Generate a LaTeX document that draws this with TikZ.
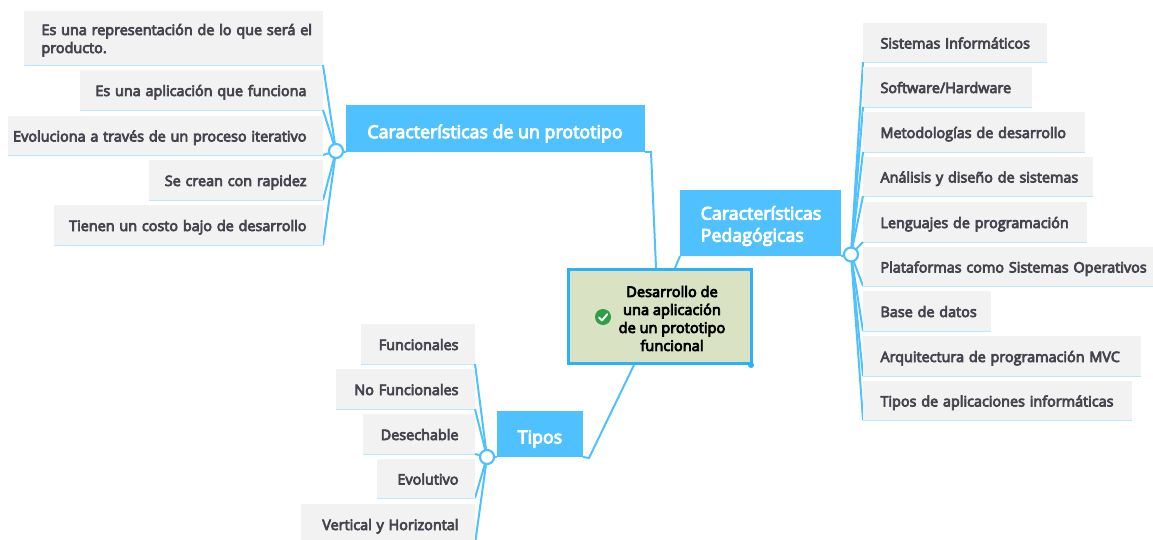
\documentclass[tikz,border=0pt]{standalone}
\usepackage{fontspec}
\setmainfont{Open Sans}[BoldFont=Open Sans,BoldFeatures={FakeBold=5}]
\usetikzlibrary{backgrounds}
\definecolor{mapblue}{HTML}{4FC1FF}
\definecolor{mapline}{HTML}{BDE7FF}
\definecolor{leaffill}{HTML}{F2F2F2}
\definecolor{leaftext}{HTML}{45454F}
\definecolor{rootfill}{HTML}{D9E2C2}
\definecolor{rootline}{HTML}{2BB2F7}
\definecolor{okgreen}{HTML}{2E9E48}
\tikzset{
  leafbox/.style={fill=leaffill,text=leaftext,font=\bfseries\fontsize{14.4}{18}\selectfont,inner sep=0pt,outer sep=0pt,anchor=north west,rectangle},
  topicbox/.style={fill=mapblue,inner sep=0pt,outer sep=0pt,anchor=north west,rectangle},
  topictext/.style={text=white,font=\bfseries\fontsize{17.8}{22}\selectfont,inner sep=0pt},
  roottext/.style={text=black,font=\bfseries\fontsize{14.6}{18}\selectfont,inner sep=0pt,align=center},
  rootbox/.style={fill=rootfill,draw=rootline,line width=3pt,inner sep=0pt,anchor=north west,rectangle},
  hubdot/.style={circle,draw=mapblue,fill=white,line width=2.2pt,minimum size=14pt,inner sep=0pt},
  conn/.style={draw=mapblue,line width=2pt},
  under/.style={draw=mapline,line width=1.5pt}
}
% leaf: name, x0, y0, x1, y1, alignment (l or r), text
\newcommand{\leafnode}[7]{%
  \pgfmathsetlengthmacro{\lw}{(#4-#2)*1pt}%
  \pgfmathsetlengthmacro{\lh}{(#5-#3)*1pt}%
  \node[leafbox,text width=\lw,minimum height=\lh] (#1) at (#2,#3) {\ifx#6r\raggedleft\rightskip=16.5pt\relax\else\raggedright\leftskip=17.5pt\relax\fi\rule{0pt}{16.5pt}#7\rule[-4.5pt]{0pt}{4.5pt}\par};%
  \begin{scope}[on background layer]\draw[under] (#1.south west) -- (#1.south east);\end{scope}%
}
\begin{document}
\begin{tikzpicture}[x=1pt,y=-1pt]
\useasboundingbox (0,0) rectangle (1153,540);
% root and topics
\node[rootbox,minimum width=183pt,minimum height=94pt] (root) at (567,268) {};
\node[roottext] (rootlabel) at (672,318.5) {Desarrollo de\\una aplicación\\de un prototipo\\funcional};
\node[circle,fill=okgreen,minimum size=16pt,inner sep=0pt] (icon) at (603,317) {};
\draw[white,line width=1.9pt,line cap=round,line join=round] ([shift={(-4,0.5)}]icon.center) -- ([shift={(-1,3.5)}]icon.center) -- ([shift={(4.2,-2.8)}]icon.center);
\node[circle,fill=rootline,minimum size=6pt,inner sep=0pt] (corner) at (751,365) {};
\node[topicbox,minimum width=299pt,minimum height=47pt] (t1) at (346,105) {};
\node[topictext] (t1label) at (495,133.5) {Características de un prototipo};
\node[topicbox,minimum width=161pt,minimum height=66pt] (t2) at (680,190) {};
\node[topictext,align=left,anchor=west] (t2label) at (700.5,226) {Características\\Pedagógicas};
\node[topicbox,minimum width=86pt,minimum height=46pt] (t3) at (497,411) {};
\node[topictext] (t3label) at (540,439) {Tipos};
% hubs
\node[hubdot] (h1) at (336,151) {};
\node[hubdot] (h2) at (851,254.5) {};
\node[hubdot] (h3) at (487,457) {};
% left leaves
\leafnode{a1}{24}{11}{323}{65}{l}{Es una representación de lo que será el\\producto.}
\leafnode{a2}{80}{70}{323}{110}{r}{Es una aplicación que funciona}
\leafnode{a3}{8}{116}{323}{155}{r}{Evoluciona a través de un proceso iterativo}
\leafnode{a4}{149}{160}{323}{200}{r}{Se crean con rapidez}
\leafnode{a5}{54}{205}{323}{245}{r}{Tienen un costo bajo de desarrollo}
% right leaves
\leafnode{b1}{863}{23}{1047}{62}{l}{Sistemas Informáticos}
\leafnode{b2}{863}{67}{1032}{107}{l}{Software/Hardware}
\leafnode{b3}{863}{112}{1085}{152}{l}{Metodologías de desarrollo}
\leafnode{b4}{863}{157}{1093}{196}{l}{Análisis y diseño de sistemas}
\leafnode{b5}{863}{202}{1087}{242}{l}{Lenguajes de programación}
\leafnode{b6}{863}{247}{1153}{286}{l}{Plataformas como Sistemas Operativos}
\leafnode{b7}{863}{291}{991}{331}{l}{Base de datos}
\leafnode{b8}{863}{336}{1141}{376}{l}{Arquitectura de programación MVC}
\leafnode{b9}{863}{381}{1132}{420}{l}{Tipos de aplicaciones informáticas}
% bottom leaves
\leafnode{c1}{361}{324}{475}{364}{r}{Funcionales}
\leafnode{c2}{336}{369}{475}{409}{r}{No Funcionales}
\leafnode{c3}{363}{414}{475}{454}{r}{Desechable}
\leafnode{c4}{377}{459}{475}{498}{r}{Evolutivo}
\leafnode{c5}{301}{504}{475}{544}{r}{Vertical y Horizontal}
% connectors
\begin{scope}[on background layer]
\coordinate (k1) at (651,152);
\coordinate (k3) at (589,458);
\draw[conn] (t1.south east) -- (k1) -- (root.north -| 656,0);
\draw[conn] (t2.south west) -- (root.north -| 675,0);
\draw[conn] (t3.south east) -- (k3) -- (root.south -| 634,0);
\draw[conn] (t1.south west) -- (h1.center);
\draw[conn] (t2.south east) -- (h2.center);
\draw[conn] (t3.south west) -- (h3.center);
\foreach \n in {a1,a2,a3,a4,a5}{\draw[conn] (h1.center) -- (\n.south east);}
\foreach \n in {b1,b2,b3,b4,b5,b6,b7,b8,b9}{\draw[conn] (h2.center) -- (\n.south west);}
\foreach \n in {c1,c2,c3,c4,c5}{\draw[conn] (h3.center) -- (\n.south east);}
\end{scope}
\end{tikzpicture}
\end{document}
